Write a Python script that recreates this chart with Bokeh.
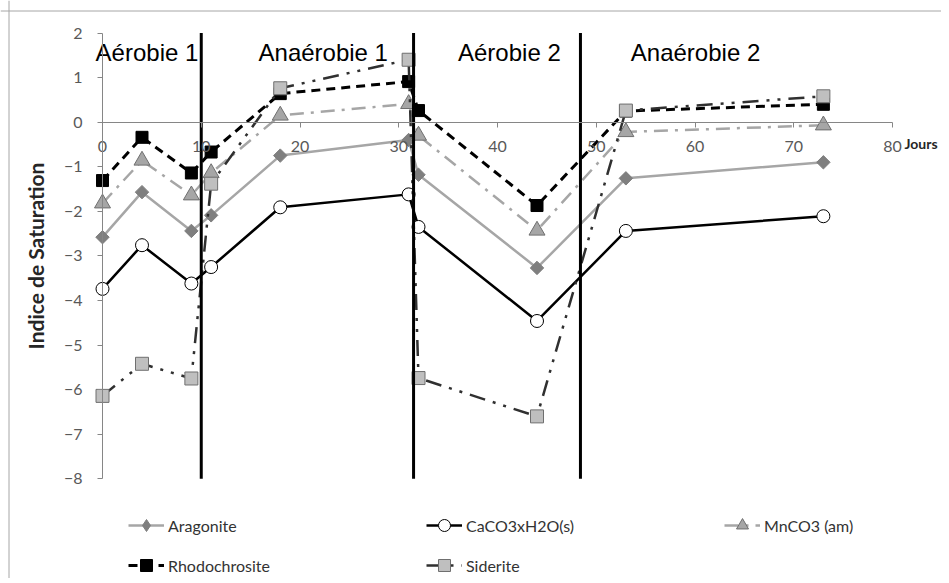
import numpy as np
from bokeh.plotting import figure
from bokeh.models import (Legend, LegendItem, FixedTicker, Label, Range1d, ColumnDataSource,
                          LinearAxis, Span)
from bokeh.core.properties import value
from bokeh.embed import file_html
from bokeh.resources import INLINE

# ---- data ----
days = [0, 4, 9, 11, 18, 31, 32, 44, 53, 73]
aragonite = [-2.58, -1.57, -2.44, -2.09, -0.75, -0.40, -1.18, -3.27, -1.26, -0.90]
caco3 = [-3.74, -2.76, -3.62, -3.25, -1.91, -1.62, -2.35, -4.46, -2.44, -2.11]
mnco3 = [-1.82, -0.86, -1.64, -1.14, 0.15, 0.41, -0.30, -2.43, -0.22, -0.07]
rhodochrosite = [-1.31, -0.34, -1.14, -0.67, 0.64, 0.91, 0.26, -1.87, 0.25, 0.40]
siderite = [-6.14, -5.42, -5.75, -1.38, 0.76, 1.40, -5.74, -6.60, 0.26, 0.58]

phase_bounds = [10, 31.5, 48.4]
phase_names = ["Aérobie 1", "Anaérobie 1", "Aérobie 2", "Anaérobie 2"]
phase_label_x = [-0.7, 15.8, 36.0, 53.5]
phase_label_y = [1.56, 1.56, 1.56, 1.56]

x_ticks = [0, 10, 20, 30, 40, 50, 60, 70, 80]
y_ticks = [-8, -7, -6, -5, -4, -3, -2, -1, 0, 1, 2]

FONT = "Lato"
W, H = 941, 578
# pixel geometry of the plotting area inside the canvas
X0_PX, X80_PX = 102.0, 892.0
Y2_PX, YM8_PX = 32.5, 478.3
sx = (X80_PX - X0_PX) / (x_ticks[-1] - x_ticks[0])
sy = (YM8_PX - Y2_PX) / (y_ticks[-1] - y_ticks[0])
x_range = Range1d(x_ticks[0] - X0_PX / sx, x_ticks[-1] + (W - X80_PX) / sx)
y_range = Range1d(y_ticks[0] - (H - YM8_PX) / sy, y_ticks[-1] + Y2_PX / sy)

p = figure(width=W, height=H, x_range=x_range, y_range=y_range,
           x_axis_type=None, y_axis_type=None,
           output_backend="svg", toolbar_location=None,
           min_border_left=0, min_border_right=0, min_border_top=0, min_border_bottom=0)
p.min_border = 0
p.outline_line_color = None
p.background_fill_color = "white"

# chart border (light gray, left and top as in the reference)
p.add_layout(Span(location=8.5, location_units="screen", dimension="height",
                  line_color="#A6A6A6", line_width=1))
p.add_layout(Span(location=H - 10.5, location_units="screen", dimension="width",
                  line_color="#A6A6A6", line_width=1))

xaxis = LinearAxis(fixed_location=0, bounds=(x_ticks[0], x_ticks[-1]),
                   ticker=FixedTicker(ticks=x_ticks))
yaxis = LinearAxis(fixed_location=0, bounds=(y_ticks[0], y_ticks[-1]),
                   ticker=FixedTicker(ticks=y_ticks))
for ax in (xaxis, yaxis):
    ax.axis_line_color = "#868686"
    ax.major_tick_line_color = "#868686"
    ax.major_tick_out = 5
    ax.major_tick_in = 0
    ax.minor_tick_line_color = None
    ax.major_label_text_font = FONT
    ax.major_label_text_font_size = "16px"
    ax.major_label_text_color = "#595959"
xaxis.major_label_standoff = 14
yaxis.major_label_standoff = 15
yaxis.axis_label = "Indice de Saturation"
yaxis.axis_label_text_font = FONT
yaxis.axis_label_text_font_style = "bold"
yaxis.axis_label_text_font_size = "21px"
yaxis.axis_label_text_color = "#262626"
yaxis.axis_label_standoff = 13
p.add_layout(xaxis, "below")
p.add_layout(yaxis, "left")

src = ColumnDataSource(dict(days=days, aragonite=aragonite, caco3=caco3, mnco3=mnco3,
                            rhodochrosite=rhodochrosite, siderite=siderite))

# Aragonite
l1 = p.line("days", "aragonite", source=src, line_color="#A6A6A6", line_width=2.5)
# diamond used by the legend (tiny, hidden under the rotated squares)
m1 = p.scatter("days", "aragonite", source=src, marker="diamond", size=1,
               fill_color="#7F7F7F", line_color="#7F7F7F")
p.scatter("days", "aragonite", source=src, marker="square", angle=np.pi / 4, size=9.5,
          fill_color="#7F7F7F", line_color="#7F7F7F")
# CaCO3xH2O
l2 = p.line("days", "caco3", source=src, line_color="black", line_width=2.5)
m2 = p.scatter("days", "caco3", source=src, marker="circle", size=13,
               fill_color="white", line_color="black", line_width=1)
# MnCO3 (am)
l3 = p.line("days", "mnco3", source=src, line_color="#A6A6A6", line_width=2.5,
            line_dash="14 7 3 7")
m3 = p.scatter("days", "mnco3", source=src, marker="triangle", size=16,
               fill_color="#A6A6A6", line_color="#6F6F6F", line_width=1)
# Rhodochrosite
l4 = p.line("days", "rhodochrosite", source=src, line_color="black", line_width=3,
            line_dash="9 6")
m4 = p.scatter("days", "rhodochrosite", source=src, marker="square", size=12,
               fill_color="black", line_color="black")
# Siderite
l5 = p.line("days", "siderite", source=src, line_color="#303030", line_width=2.5,
            line_dash="16 8 3 8 3 8")
m5 = p.scatter("days", "siderite", source=src, marker="square", size=13,
               fill_color="#BFBFBF", line_color="#6F6F6F", line_width=1)

# phase boundaries (vertical lines from -8 to 2)
p.segment(x0=phase_bounds, y0=[y_ticks[0]] * len(phase_bounds),
          x1=phase_bounds, y1=[y_ticks[-1]] * len(phase_bounds),
          line_color="black", line_width=3)

# phase labels
p.text(x=phase_label_x, y=phase_label_y, text=phase_names, text_font=value("Liberation Sans"),
       text_font_size="24px", text_color="black", text_align="left", text_baseline="alphabetic")

# x-axis title at the right end
p.add_layout(Label(x=x_ticks[-1], y=0, x_offset=12, y_offset=-21, text="Jours", text_font=FONT,
                   text_font_style="bold", text_font_size="14px", text_color="#262626",
                   text_baseline="middle", text_align="left"))

legend = Legend(items=[
    LegendItem(label="Aragonite", renderers=[l1, m1]),
    LegendItem(label="CaCO3xH2O(s)", renderers=[l2, m2]),
    LegendItem(label="MnCO3 (am)", renderers=[l3, m3]),
    LegendItem(label="Rhodochrosite", renderers=[l4, m4]),
    LegendItem(label="Siderite", renderers=[l5, m5]),
], orientation="horizontal", ncols=3)
legend.location = (128, H - 580)
legend.padding = 0
legend.margin = 0
legend.spacing = 10
legend.glyph_width = 36
legend.glyph_height = 30
legend.label_height = 30
legend.label_standoff = 4
legend.label_width = 248
legend.label_text_font = FONT
legend.label_text_font_size = "16px"
legend.label_text_color = "#333333"
legend.border_line_color = None
legend.background_fill_alpha = 0
p.add_layout(legend, "center")

open("out.html", "w").write(file_html(p, INLINE))
